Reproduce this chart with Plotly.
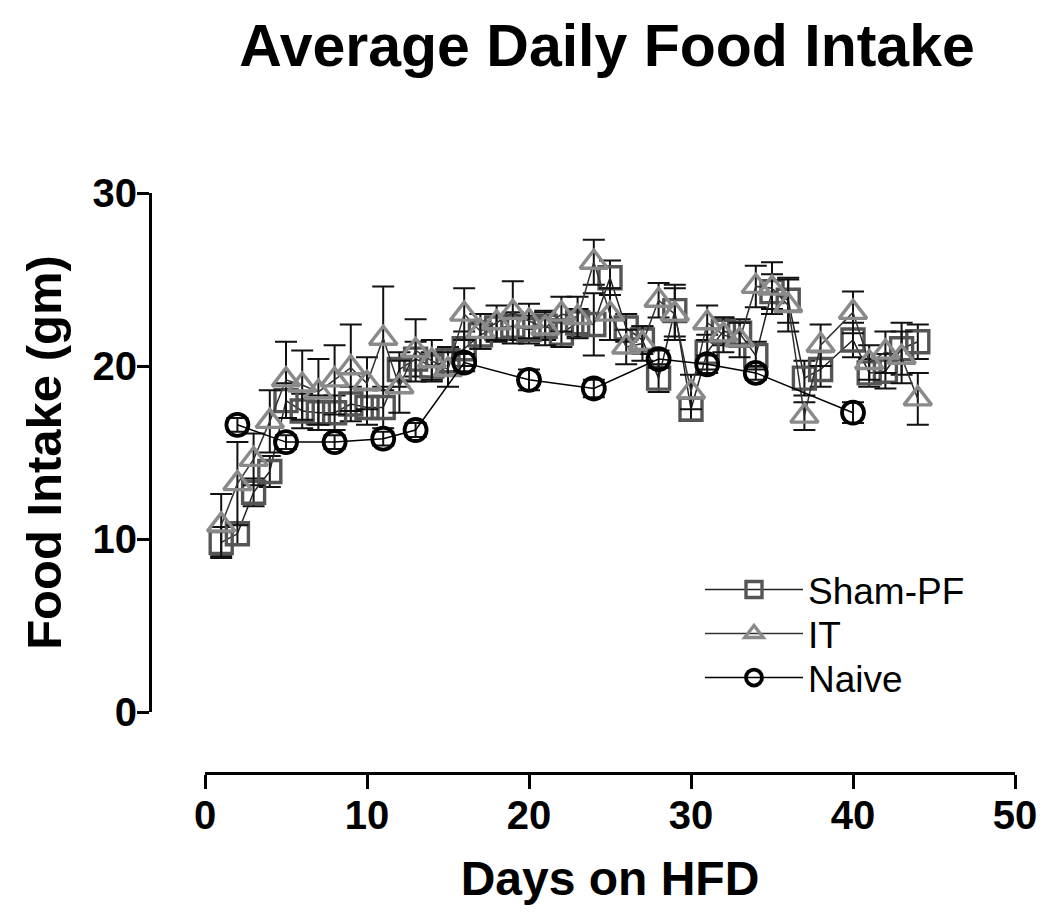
import plotly.graph_objects as go

# ---------------- data ----------------
sham_days = [1, 2, 3, 4, 5, 6, 7, 8, 9, 10, 11, 12, 13, 14, 15, 16, 17, 18, 19, 20, 21, 22,
             23, 24, 25, 26, 27, 28, 29, 30, 31, 32, 33, 34, 35, 36, 37, 38, 40, 41, 42, 43, 44]
sham_vals = [9.8, 10.3, 12.7, 13.9, 18.0, 17.4, 17.3, 17.3, 17.8, 17.6, 17.6, 19.8, 20.4, 20.0,
             20.3, 21.0, 21.8, 22.2, 22.3, 22.1, 22.3, 21.9, 22.5, 22.4, 25.1, 22.2, 21.5, 19.3,
             23.2, 17.5, 20.8, 22.0, 21.9, 20.6, 24.3, 23.8, 19.3, 19.8, 21.5, 19.6, 19.7, 21.0, 21.4]
sham_err = [0.9, 0.6, 0.8, 0.9, 1.0, 1.0, 1.0, 1.0, 1.0, 1.0, 1.2, 1.0, 1.0, 0.8, 0.8, 1.0, 0.8,
            0.8, 0.8, 0.8, 0.8, 0.8, 0.8, 1.8, 1.0, 0.8, 0.8, 0.8, 1.5, 0.6, 1.0, 0.8, 0.8, 0.8,
            1.0, 1.3, 1.0, 1.0, 1.0, 0.8, 1.0, 1.5, 1.0]

it_days = sham_days
it_vals = [10.8, 13.2, 14.6, 16.8, 19.2, 18.9, 18.5, 19.2, 19.9, 19.0, 21.6, 18.8, 20.9, 20.3,
           19.8, 23.0, 22.0, 22.5, 23.1, 22.6, 22.2, 23.0, 22.8, 26.0, 23.0, 21.1, 21.3, 23.8,
           23.0, 18.5, 22.5, 21.8, 21.5, 24.6, 24.5, 23.5, 17.1, 21.2, 23.1, 20.2, 20.8, 20.5, 18.1]
it_err = [1.8, 2.4, 1.5, 1.8, 2.2, 2.0, 1.9, 2.0, 2.5, 1.5, 3.0, 1.5, 1.8, 1.2, 1.0, 1.5, 1.0,
          1.0, 1.8, 1.0, 1.0, 1.0, 1.2, 1.3, 1.5, 1.0, 1.0, 1.0, 1.5, 1.0, 1.0, 1.0, 1.0, 1.2,
          1.5, 1.5, 0.8, 1.2, 1.2, 1.0, 1.2, 1.5, 1.5]

naive_days = [2, 5, 8, 11, 13, 16, 20, 24, 28, 31, 34, 40]
naive_vals = [16.6, 15.6, 15.6, 15.8, 16.3, 20.2, 19.2, 18.7, 20.4, 20.1, 19.6, 17.3]
naive_err = [0.4, 0.4, 0.4, 0.4, 0.4, 0.5, 0.6, 0.5, 0.5, 0.5, 0.4, 0.6]

x_ticks = [0, 10, 20, 30, 40, 50]
y_ticks = [0, 10, 20, 30]

FONT = "Liberation Sans, Arial, sans-serif"

# page body has an 8px margin; work in screen pixels and convert
OFF = 8
W, H = 1050 - OFF, 921 - OFF
ml, mr, mt, mb = 92, 10, 142, 132
pw = W - ml - mr
ph = H - mt - mb


def px_x(p):
    return (p - OFF - ml) / pw


def px_y(p):
    return (H - mb - (p - OFF)) / ph


fig = go.Figure()

legend_rows = {"legend": 590, "legend2": 634, "legend3": 678}


def add_series(name, x, y, err, symbol, color, line_color, size, lw, legend):
    fig.add_trace(go.Scatter(
        x=x, y=y, name=name, mode="lines+markers", legend=legend,
        line=dict(color=line_color, width=1.5),
        marker=dict(symbol=symbol, size=size, color=color,
                    line=dict(color=color, width=lw)),
        error_y=dict(type="data", array=err, visible=True, color="#111111",
                     thickness=2, width=11),
    ))


add_series("Sham-PF", sham_days, sham_vals, sham_err, "square-open", "#555555", "#222222", 22, 3.4, "legend")
add_series("IT", it_days, it_vals, it_err, "triangle-up-open", "#8a8a8a", "#333333", 24, 3.4, "legend2")
add_series("Naive", naive_days, naive_vals, naive_err, "circle-open", "#000000", "#000000", 22, 3.8, "legend3")

legend_common = dict(
    xanchor="left", yanchor="middle",
    bgcolor="rgba(255,255,255,0)", font=dict(size=37, family=FONT, color="black"),
    itemsizing="trace", itemwidth=98,
)

fig.update_layout(
    width=W, height=H,
    margin=dict(l=ml, r=mr, t=mt, b=mb, autoexpand=False),
    plot_bgcolor="white", paper_bgcolor="white",
    font=dict(family=FONT, color="black"),
    title=dict(text="<b>Average Daily Food Intake</b>", x=(607 - OFF) / W, xanchor="center",
               xref="container", y=1 - (45 - OFF) / H, yref="container", yanchor="middle",
               automargin=False,
               font=dict(size=59, family=FONT, color="black")),
    xaxis=dict(
        domain=[px_x(205), px_x(1015)], range=[0, 50], automargin=False,
        anchor="free", position=px_y(773),
        tickvals=x_ticks, ticks="outside", ticklen=14, tickwidth=3, tickcolor="black",
        showline=True, linewidth=3, linecolor="black", showgrid=False, zeroline=False,
        tickfont=dict(size=40, family=FONT, color="black", weight="bold"),
        ticklabelstandoff=-8,
        title=dict(text="<b>Days on HFD</b>", font=dict(size=48, family=FONT, color="black"),
                   standoff=25),
    ),
    yaxis=dict(
        domain=[px_y(712), px_y(193)], range=[0, 30], automargin=False,
        anchor="free", position=px_x(150),
        tickvals=y_ticks, ticks="outside", ticklen=12, tickwidth=3, tickcolor="black",
        showline=True, linewidth=3, linecolor="black", showgrid=False, zeroline=False,
        tickfont=dict(size=40, family=FONT, color="black", weight="bold"),
        ticklabelstandoff=-8,
        title=dict(text="<b>Food Intake (gm)</b>", font=dict(size=49, family=FONT, color="black"),
                   standoff=14),
    ),
    legend=dict(x=px_x(700), y=px_y(legend_rows["legend"]), **legend_common),
    legend2=dict(x=px_x(700), y=px_y(legend_rows["legend2"]), **legend_common),
    legend3=dict(x=px_x(700), y=px_y(legend_rows["legend3"]), **legend_common),
    showlegend=True,
)

fig.write_html("out.html")
